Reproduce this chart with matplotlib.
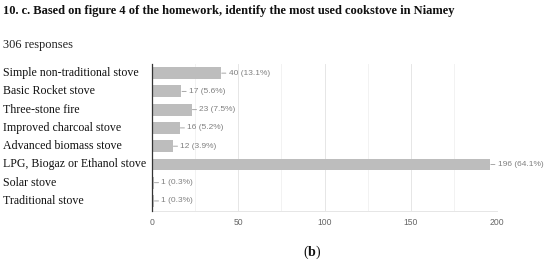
import matplotlib
matplotlib.use("Agg")
import matplotlib.pyplot as plt
from matplotlib.transforms import blended_transform_factory
from matplotlib.ticker import MultipleLocator

categories = ["Simple non-traditional stove", "Basic Rocket stove", "Three-stone fire",
              "Improved charcoal stove", "Advanced biomass stove",
              "LPG, Biogaz or Ethanol stove", "Solar stove", "Traditional stove"]
counts = [40, 17, 23, 16, 12, 196, 1, 1]
percents = [13.1, 5.6, 7.5, 5.2, 3.9, 64.1, 0.3, 0.3]
xticks = [0, 50, 100, 150, 200]

plt.rcParams['mathtext.fontset'] = 'custom'
plt.rcParams['mathtext.bf'] = 'Liberation Serif:bold'
plt.rcParams['mathtext.rm'] = 'Liberation Serif'

W, H = 550, 260
fig = plt.figure(figsize=(W / 100, H / 100), dpi=100)
ax = fig.add_axes([152 / W, 1 - 211 / H, (497 - 152) / W, (211 - 64) / H])

y = list(range(len(categories)))
ax.barh(y, counts, height=0.65, color="#bdbdbd", zorder=3)
ax.set_xlim(0, 200)
ax.set_ylim(len(categories) - 0.45, -0.5)

ax.xaxis.set_major_locator(MultipleLocator(50))
ax.xaxis.set_minor_locator(MultipleLocator(25))
ax.set_xticks(xticks)
ax.set_xticklabels([str(t) for t in xticks], fontsize=6.2, color="#666666",
                   family="Liberation Sans")
ax.tick_params(axis='x', which='both', length=0, pad=5)
ax.set_yticks([])
ax.grid(axis='x', which='major', color="#e6e6e6", linewidth=0.7, zorder=0)
ax.grid(axis='x', which='minor', color="#f2f2f2", linewidth=0.7, zorder=0)
for s in ["top", "right"]:
    ax.spines[s].set_visible(False)
ax.spines["bottom"].set_color("#e6e6e6")
ax.spines["bottom"].set_linewidth(0.7)
ax.spines["left"].set_color("#333333")
ax.spines["left"].set_linewidth(0.9)
ax.spines["left"].set_zorder(5)

for yi, c, p in zip(y, counts, percents):
    ax.annotate(f"{c} ({p}%)", xy=(c, yi), xytext=(5.5, 0), textcoords="offset points",
                va="center", ha="left", fontsize=6.0, color="#808080",
                family="Liberation Sans",
                arrowprops=dict(arrowstyle="-", color="#999999", lw=0.6,
                                shrinkA=0, shrinkB=0.5))

tr = blended_transform_factory(fig.transFigure, ax.transData)
for yi, cat in zip(y, categories):
    ax.text(3 / W, yi, cat, transform=tr, ha="left", va="center",
            fontsize=8.55, family="Liberation Serif", color="#111111")

fig.text(3 / W, 1 - 11 / H, "10. c. Based on figure 4 of the homework, identify the most used cookstove in Niamey",
         ha="left", va="center", fontsize=9.0, fontweight="bold",
         family="Liberation Serif", color="#111111")
fig.text(3 / W, 1 - 45 / H, "306 responses", ha="left", va="center",
         fontsize=8.9, family="Liberation Serif", color="#222222")
fig.text(312 / W, 1 - 252 / H, r"($\mathbf{b}$)", ha="center", va="center",
         fontsize=10, family="Liberation Serif", color="#111111")

fig.savefig("out.png", dpi=100)
